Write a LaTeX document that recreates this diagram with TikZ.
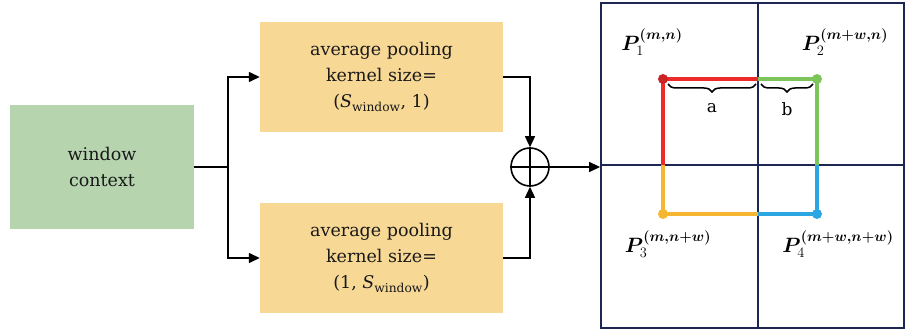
\documentclass[tikz,border=0pt]{standalone}
\usepackage{amsmath}
\usepackage{fontspec}
\usepackage{bm}
\setmainfont{DejaVu Serif}
\usetikzlibrary{arrows.meta,decorations.pathreplacing}
\definecolor{ctxgreen}{HTML}{B6D5AF}
\definecolor{poolyellow}{HTML}{F7D895}
\definecolor{gridnavy}{HTML}{1D2552}
\definecolor{edgered}{HTML}{EE2A2A}
\definecolor{edgegreen}{HTML}{7DC45A}
\definecolor{edgeorange}{HTML}{F7B632}
\definecolor{edgeblue}{HTML}{2AA7E2}
\newcommand{\swin}{\textit{S}\textsubscript{\raisebox{-0.35ex}{window}}}
\tikzset{
  blockbox/.style={rectangle, align=center, inner sep=0pt, text=black!90,
    font=\fontsize{17.5}{26}\selectfont},
  conn/.style={line width=1.4pt, black},
  tip/.style={-{Triangle[length=11pt,width=10pt]}},
  gridline/.style={line width=1.8pt, gridnavy},
  edge/.style={line width=3.2pt},
  corner/.style={circle, inner sep=0pt, minimum size=10pt},
  plabel/.style={font=\fontsize{20}{24}\selectfont},
  bracestyle/.style={decorate, decoration={brace, mirror, amplitude=8pt}, line width=1.5pt},
  offlabel/.style={font=\fontsize{17}{20}\selectfont, below=15pt},
}
\begin{document}
\begin{tikzpicture}[x=1pt,y=-1pt]
\useasboundingbox (0,0) rectangle (906,331);

% input and pooling branches
\node[blockbox, fill=ctxgreen, minimum width=184pt, minimum height=124pt] (ctx) at (102,167) {window\\context};
\node[blockbox, fill=poolyellow, minimum width=243pt, minimum height=110pt] (up) at (381.5,77)
  {average pooling\\kernel size=\\(\swin, 1)};
\node[blockbox, fill=poolyellow, minimum width=243pt, minimum height=110pt] (lo) at (381.5,258)
  {average pooling\\kernel size=\\(1, \swin)};

% summation
\node[circle, draw, line width=1.6pt, minimum size=38pt, inner sep=0pt] (sum) at (530,167) {};
\draw[line width=1.6pt] (sum.north) -- (sum.south) (sum.west) -- (sum.east);

% output grid
\node[draw=gridnavy, line width=1.8pt, minimum width=303pt, minimum height=325pt, inner sep=0pt] (grid) at (752.5,165.5) {};
\draw[gridline] (758,3) -- (758,328);
\draw[gridline] (601,165) -- (904,165);

% connectors
\coordinate (split) at (228,167);
\draw[conn] (ctx.east) -- (split);
\draw[conn, tip] (split) |- (up.west);
\draw[conn, tip] (split) |- (lo.west);
\draw[conn, tip] (up.east) -| (sum.north);
\draw[conn, tip] (lo.east) -| (sum.south);
\draw[conn, tip] (sum.east) -- (sum.east -| grid.west);

% sampling square
\coordinate (c1) at (663,79);
\coordinate (c2) at (817,79);
\coordinate (c3) at (663,214);
\coordinate (c4) at (817,214);
\draw[edge, edgered]    (758,79) -- (c1) -- (663,165);
\draw[edge, edgegreen]  (758,79) -- (c2) -- (817,165);
\draw[edge, edgeorange] (663,165) -- (c3) -- (758,214);
\draw[edge, edgeblue]   (817,165) -- (c4) -- (758,214);
\node[corner, fill=edgered!85!black] at (c1) {};
\node[corner, fill=edgegreen] at (c2) {};
\node[corner, fill=edgeorange] at (c3) {};
\node[corner, fill=edgeblue] at (c4) {};

% offsets
\draw[bracestyle] (668,84) -- (756,84) node[midway, offlabel] (la) {a};
\draw[bracestyle] (761,84) -- (813,84) node[midway, offlabel] (lb) {b};

% corner labels
\node[plabel] (p1) at (652,42) {$\bm{P}^{\bm{(m,n)}}_1$};
\node[plabel] (p2) at (845,42) {$\bm{P}^{\bm{(m+w,n)}}_2$};
\node[plabel] (p3) at (668,244) {$\bm{P}^{\bm{(m,n+w)}}_3$};
\node[plabel] (p4) at (838,244) {$\bm{P}^{\bm{(m+w,n+w)}}_4$};
\end{tikzpicture}
\end{document}
